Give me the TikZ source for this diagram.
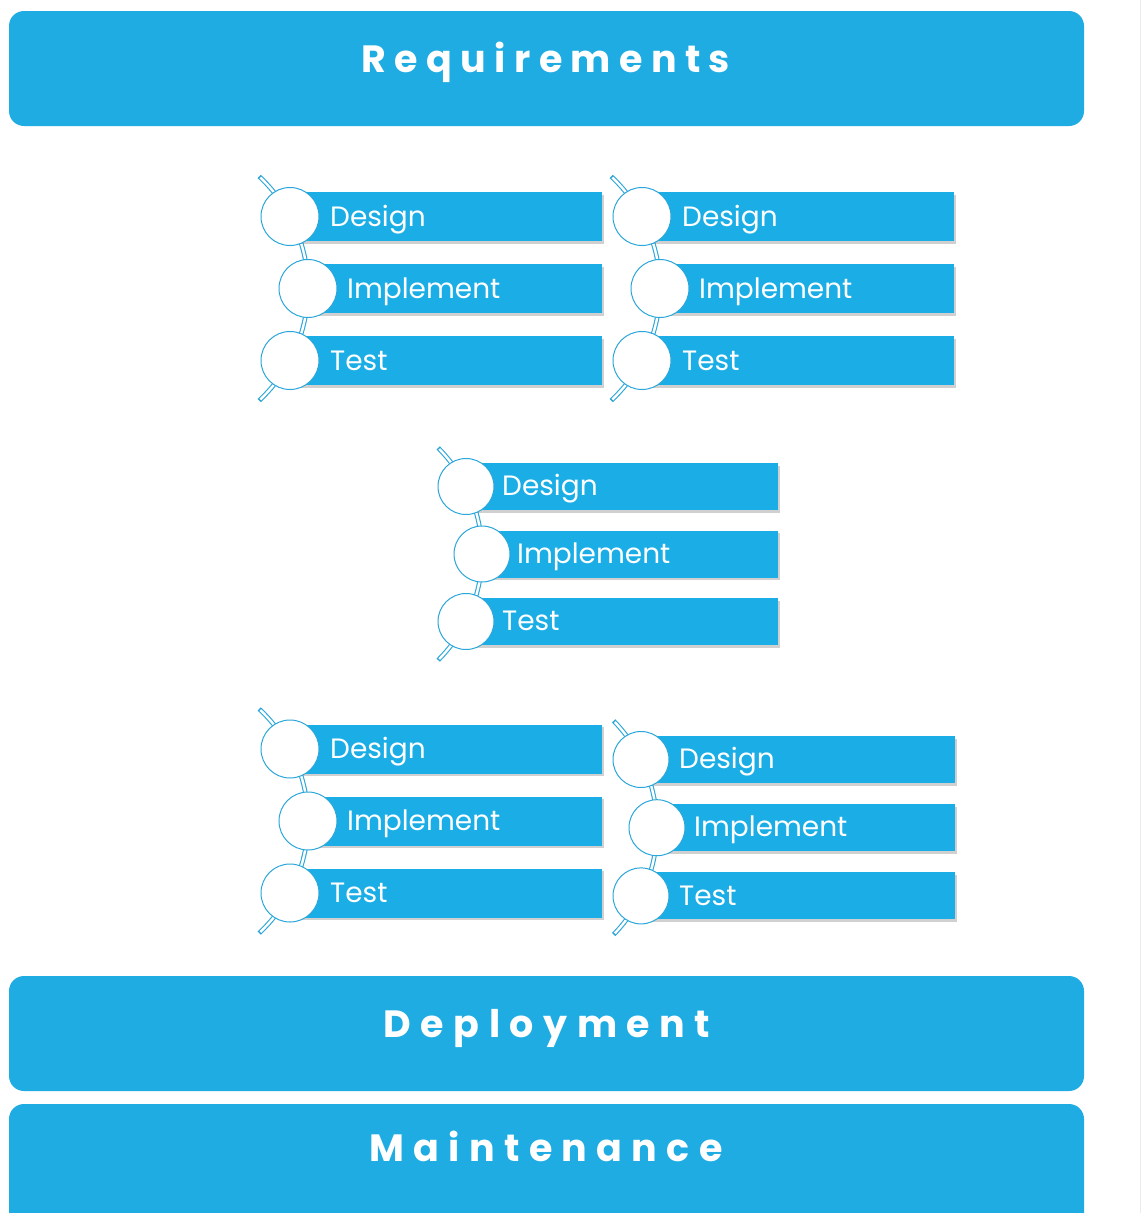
\documentclass[tikz,border=0pt]{standalone}
\usepackage{fontspec}
\setmainfont{Poppins}
\newfontfamily\titlefont{Poppins}
\usetikzlibrary{shadows}
\definecolor{boxblue}{RGB}{31,172,227}
\definecolor{barblue}{RGB}{27,174,230}
\definecolor{lineblue}{RGB}{43,166,218}
\tikzset{
  bigbox/.style={fill=boxblue, draw=none, rounded corners=15pt},
  titletext/.style={text=white, font=\titlefont\bfseries\fontsize{38}{44}\selectfont, inner sep=0pt, anchor=base},
  barbox/.style={fill=barblue, draw=none, anchor=west, inner sep=0pt,
    drop shadow={shadow xshift=2pt, shadow yshift=-2.5pt, opacity=0.3, fill=black!60}},
  bartext/.style={text=white, font=\fontsize{28}{32}\selectfont, anchor=base west, inner sep=0pt},
  ring/.style={circle, fill=white, draw=lineblue, line width=1pt, inner sep=0pt},
  spineout/.style={draw=lineblue, line width=4.6pt},
  spinein/.style={draw=white, line width=2.4pt},
}
% #1 name, #2 cx, #3 cy, #4 dy, #5 dx, #6 r, #7 bar height, #8 bar right end, #9 text offset
\newcommand\cyclegroup[9]{%
  \pgfmathsetmacro\cgR{(#5*#5+#4*#4)/(2*#5)}%
  \pgfmathsetmacro\cgCx{#2+#5-\cgR}%
  \pgfmathsetmacro\cgCy{#3+#4}%
  \pgfmathsetmacro\cgA{asin(min(0.99,(#4+1.38*#6)/\cgR))}%
  \pgfmathsetmacro\cgB{\cgA-0.6}%
  \pgfmathsetmacro\cgT{-0.195*#7}%
  \coordinate (#1-o) at (\cgCx,\cgCy);
  \draw[spineout] ([shift={(-\cgA:\cgR)}]#1-o) arc[start angle=-\cgA, end angle=\cgA, radius=\cgR];
  \draw[spinein] ([shift={(-\cgB:\cgR)}]#1-o) arc[start angle=-\cgB, end angle=\cgB, radius=\cgR];
  \node[barbox, minimum width={#8-#2}, minimum height=#7] (#1-d) at (#2,#3) {};
  \node[barbox, minimum width={#8-#2-#5}, minimum height=#7] (#1-i) at (#2+#5,#3+#4) {};
  \node[barbox, minimum width={#8-#2}, minimum height=#7] (#1-t) at (#2,#3+2*#4) {};
  \node[ring, minimum size=2*#6] (#1-dc) at (#1-d.west) {};
  \node[ring, minimum size=2*#6] (#1-ic) at (#1-i.west) {};
  \node[ring, minimum size=2*#6] (#1-tc) at (#1-t.west) {};
  \node[bartext] (#1-dt) at ([xshift=#9pt,yshift=\cgT pt]#1-d.west) {Design};
  \node[bartext] (#1-it) at ([xshift=#9pt-1pt,yshift=\cgT pt]#1-i.west) {Implement};
  \node[bartext] (#1-tt) at ([xshift=#9pt,yshift=\cgT pt]#1-t.west) {Test};
}
\begin{document}
\begin{tikzpicture}[x=1pt, y=-1pt]
\clip (0,0) rectangle (1141,1213);
\fill[white] (0,0) rectangle (1141,1213);
\draw[black!8, line width=1pt] (1140,0) -- (1140,1213);
% big boxes
\node[bigbox, minimum width=1075, minimum height=115, inner sep=0pt] (req) at (546.5,68.5) {};
\node[bigbox, minimum width=1075, minimum height=115, inner sep=0pt] (dep) at (546.5,1033.5) {};
\node[bigbox, minimum width=1075, minimum height=130, inner sep=0pt] (mai) at (546.5,1169) {};
\node[titletext] (reqt) at (546,72) {\addfontfeature{LetterSpace=22}Requirements};
\node[titletext] (dept) at (547,1037) {\addfontfeature{LetterSpace=25}Deployment};
\node[titletext] (mait) at (546,1161.5) {\addfontfeature{LetterSpace=24.5}Maintenance};
% groups
\cyclegroup{ga}{290}{216.5}{72}{18}{29}{49}{602}{40}
\cyclegroup{gb}{642}{216.5}{72}{18}{29}{49}{954}{40}
\cyclegroup{gc}{466}{486.5}{67.5}{16}{28}{47}{778}{36}
\cyclegroup{gd}{290}{749}{72}{18}{29}{49}{602}{40}
\cyclegroup{ge}{641}{759.5}{68.2}{16}{28}{47}{955}{38}
\end{tikzpicture}
\end{document}
